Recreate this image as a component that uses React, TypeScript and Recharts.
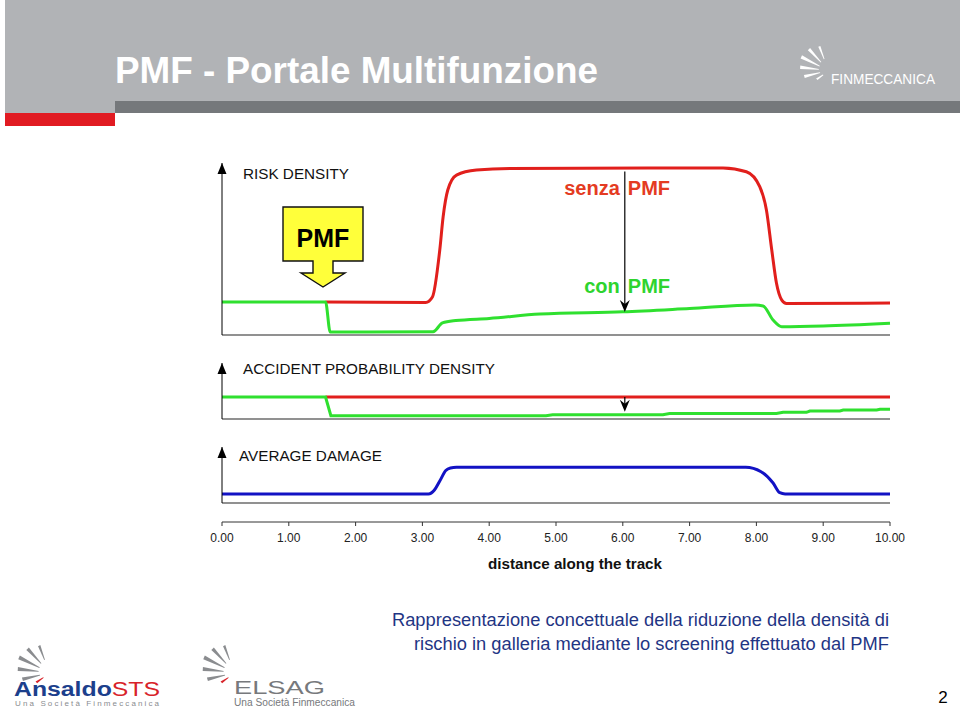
import React from "react";
import { LineChart, Line, XAxis, YAxis, ReferenceLine, ReferenceDot } from "recharts";

const FONT = '"Liberation Sans", Arial, Helvetica, sans-serif';

const RED = "#e11f1c";
const GREEN = "#2fe02f";
const BLUE = "#1212c4";

// distance along the track
const distanceTicks = [0, 1, 2, 3, 4, 5, 6, 7, 8, 9, 10];

// RISK DENSITY - senza PMF (red)
const riskSenzaX = [1.55, 3.05, 3.15, 3.26, 3.31, 3.38, 3.51, 3.81, 4.31, 7.5, 7.85, 8.05, 8.15, 8.23, 8.3, 8.38, 8.45, 10];
const riskSenzaY = [1.92, 1.89, 2.21, 4.94, 6.86, 8.43, 9.3, 9.59, 9.68, 9.71, 9.49, 8.62, 7.27, 4.94, 3.02, 2.03, 1.83, 1.86];

// RISK DENSITY - con PMF (green)
const riskConX = [0, 1.55, 1.62, 3.16, 3.3, 3.5, 4.0, 4.76, 6.0, 7.0, 7.98, 8.1, 8.25, 8.38, 9.0, 10];
const riskConY = [1.92, 1.92, 0.17, 0.19, 0.7, 0.84, 0.96, 1.22, 1.35, 1.54, 1.74, 1.69, 0.87, 0.48, 0.52, 0.68];

// ACCIDENT PROBABILITY DENSITY
const accSenzaX = [1.55, 10];
const accSenzaY = [3.93, 3.93];
const accConX = [0, 1.55, 1.63, 4.85, 4.95, 6.6, 6.7, 8.3, 8.4, 8.75, 8.8, 9.25, 9.3, 9.8, 9.85, 10];
const accConY = [3.93, 3.93, 0.59, 0.59, 0.77, 0.77, 0.98, 0.98, 1.2, 1.2, 1.43, 1.43, 1.61, 1.61, 1.75, 1.75];

// AVERAGE DAMAGE (blue)
const damageX = [0, 3.09, 3.18, 3.26, 3.35, 3.42, 3.51, 7.84, 8.07, 8.25, 8.35, 8.43, 10];
const damageY = [1.61, 1.61, 2.32, 3.93, 5.8, 6.25, 6.38, 6.38, 5.59, 3.57, 1.84, 1.61, 1.61];

// annotation anchors
const pmfAt = { x: 1.512, y: 2.79 };
const arrowX = 6.03;
const riskArrow = [9.5, 1.34];
const accArrow = [3.93, 1.3];

const zip = (xs: number[], ys: number[]) => xs.map((x, i) => ({ x, y: ys[i] }));

const margin = { top: 13, right: 70, bottom: 0, left: 212 };

const axisHead = (label: string, dx: number, dy: number, len: number) => (p: any) => (
  <g>
    <polygon points={`${p.cx - 4.5},${p.cy + 11} ${p.cx + 4.5},${p.cy + 11} ${p.cx},${p.cy}`} fill="#000" />
    <text x={p.cx + dx} y={p.cy + dy} fontFamily={FONT} fontSize={15} fill="#111" textLength={len} lengthAdjust="spacingAndGlyphs">
      {label}
    </text>
  </g>
);

const arrowTip = (p: any) => (
  <polygon points={`${p.cx},${p.cy} ${p.cx - 5},${p.cy - 12} ${p.cx},${p.cy - 8} ${p.cx + 5},${p.cy - 12}`} fill="#000" />
);

const pmfMarker = (p: any) => {
  const { cx, cy } = p;
  const d = `M${cx - 40},${cy - 80} H${cx + 40} V${cy - 26} H${cx + 10} V${cy - 14} H${cx + 22} L${cx},${cy} L${cx - 22},${cy - 14} H${cx - 10} V${cy - 26} H${cx - 40} Z`;
  return (
    <g>
      <path d={d} fill="#ffff3a" stroke="#111" strokeWidth={1.4} />
      <text x={cx} y={cy - 40} textAnchor="middle" fontFamily={FONT} fontWeight="bold" fontSize={25} fill="#000">PMF</text>
    </g>
  );
};

const senzaLabel = (p: any) => (
  <g fontFamily={FONT} fontWeight="bold" fontSize={20} fill="#e43b22">
    <text x={p.cx - 5} y={p.cy + 27} textAnchor="end">senza</text>
    <text x={p.cx + 3} y={p.cy + 27}>PMF</text>
  </g>
);

const conLabel = (p: any) => (
  <g>
    <polygon points={`${p.cx},${p.cy} ${p.cx - 5},${p.cy - 12} ${p.cx},${p.cy - 8} ${p.cx + 5},${p.cy - 12}`} fill="#000" />
    <g fontFamily={FONT} fontWeight="bold" fontSize={20} fill="#2ed42e">
      <text x={p.cx - 5} y={p.cy - 19} textAnchor="end">con</text>
      <text x={p.cx + 3} y={p.cy - 19}>PMF</text>
    </g>
  </g>
);

function Fan({ x, y, s, color, accent }: { x: number; y: number; s: number; color: string; accent?: string }) {
  // little swoosh mark of the group logos
  const rays = [
    { a: 246, r1: 14, r2: 30, w: 2.2 },
    { a: 224, r1: 13, r2: 34, w: 3.2 },
    { a: 203, r1: 12, r2: 36, w: 3.6 },
    { a: 183, r1: 12, r2: 34, w: 3.4 },
    { a: 163, r1: 11, r2: 30, w: 3 },
    { a: 140, r1: 9, r2: 18, w: 2.2 },
  ];
  return (
    <g>
      {rays.map((r, i) => {
        const rad = (r.a * Math.PI) / 180;
        const ux = Math.cos(rad), uy = Math.sin(rad);
        const nx = -uy, ny = ux;
        const x1 = x + ux * r.r1 * s, y1 = y + uy * r.r1 * s;
        const x2 = x + ux * r.r2 * s, y2 = y + uy * r.r2 * s;
        const w = r.w * s;
        const pts = `${x1 + nx * 0.4},${y1 + ny * 0.4} ${x2 + nx * w},${y2 + ny * w} ${x2 - nx * w * 0.2},${y2 - ny * w * 0.2} ${x1 - nx * 0.4},${y1 - ny * 0.4}`;
        return <polygon key={i} points={pts} fill={accent && i === rays.length - 1 ? accent : color} />;
      })}
    </g>
  );
}

export default function App() {
  const riskSenza = zip(riskSenzaX, riskSenzaY);
  const riskCon = zip(riskConX, riskConY);
  const accSenza = zip(accSenzaX, accSenzaY);
  const accCon = zip(accConX, accConY);
  const damage = zip(damageX, damageY);

  const baseAxis = { stroke: "#6d6d6d", strokeWidth: 1.5 };

  return (
    <div style={{ position: "relative", width: 960, height: 708, background: "#fff", overflow: "hidden", fontFamily: FONT }}>
      <style>{"body{margin:0}"}</style>

      {/* slide header */}
      <div style={{ position: "absolute", left: 5, top: 0, width: 955, height: 113, background: "#b1b3b6" }} />
      <div style={{ position: "absolute", left: 115, top: 101, width: 845, height: 12, background: "#75787b" }} />
      <div style={{ position: "absolute", left: 5, top: 113, width: 110, height: 13, background: "#e11b22" }} />
      <svg style={{ position: "absolute", left: 0, top: 0 }} width={960} height={130}>
        <text x={115} y={83} fontFamily={FONT} fontWeight="bold" fontSize={37} fill="#fff" textLength={483} lengthAdjust="spacingAndGlyphs">
          PMF - Portale Multifunzione
        </text>
        <Fan x={829} y={70} s={0.85} color="#fff" />
        <text x={831} y={84} fontFamily={FONT} fontSize={14} fill="#fff" textLength={104} lengthAdjust="spacingAndGlyphs">FINMECCANICA</text>
      </svg>

      {/* RISK DENSITY */}
      <div style={{ position: "absolute", left: 0, top: 150 }}>
        <LineChart width={960} height={195} margin={margin}>
          <XAxis type="number" dataKey="x" domain={[0, 10]} height={10} tick={false} tickLine={false} axisLine={baseAxis} />
          <YAxis type="number" domain={[0, 10]} width={10} tick={false} tickLine={false} axisLine={{ stroke: "#000" }} />
          <Line data={riskSenza} dataKey="y" type="monotone" stroke={RED} strokeWidth={3} dot={false} isAnimationActive={false} />
          <Line data={riskCon} dataKey="y" type="monotone" stroke={GREEN} strokeWidth={3} dot={false} isAnimationActive={false} />
          <ReferenceLine segment={[{ x: arrowX, y: riskArrow[0] }, { x: arrowX, y: riskArrow[1] + 0.3 }]} stroke="#000" strokeWidth={1.2} />
          <ReferenceDot x={arrowX} y={riskSenzaY[9]} ifOverflow="visible" shape={senzaLabel} />
          <ReferenceDot x={arrowX} y={riskArrow[1]} ifOverflow="visible" shape={conLabel} />
          <ReferenceDot x={pmfAt.x} y={pmfAt.y} ifOverflow="visible" shape={pmfMarker} />
          <ReferenceDot x={0} y={10} ifOverflow="visible" shape={axisHead("RISK DENSITY", 21, 16, 106)} />
        </LineChart>
      </div>

      {/* ACCIDENT PROBABILITY DENSITY */}
      <div style={{ position: "absolute", left: 0, top: 350 }}>
        <LineChart width={960} height={79} margin={margin}>
          <XAxis type="number" dataKey="x" domain={[0, 10]} height={10} tick={false} tickLine={false} axisLine={baseAxis} />
          <YAxis type="number" domain={[0, 10]} width={10} tick={false} tickLine={false} axisLine={{ stroke: "#000" }} />
          <Line data={accSenza} dataKey="y" type="linear" stroke={RED} strokeWidth={3} dot={false} isAnimationActive={false} />
          <Line data={accCon} dataKey="y" type="linear" stroke={GREEN} strokeWidth={3} dot={false} isAnimationActive={false} />
          <ReferenceLine segment={[{ x: arrowX, y: accArrow[0] }, { x: arrowX, y: accArrow[1] + 1 }]} stroke="#000" strokeWidth={1.2} />
          <ReferenceDot x={arrowX} y={accArrow[1]} ifOverflow="visible" shape={arrowTip} />
          <ReferenceDot x={0} y={10} ifOverflow="visible" shape={axisHead("ACCIDENT PROBABILITY DENSITY", 21, 11, 252)} />
        </LineChart>
      </div>

      {/* AVERAGE DAMAGE + distance axis */}
      <div style={{ position: "absolute", left: 0, top: 434 }}>
        <LineChart width={960} height={148} margin={margin}>
          <XAxis type="number" dataKey="x" domain={[0, 10]} height={19} tick={false} tickLine={false} axisLine={baseAxis} />
          <XAxis
            xAxisId="dist"
            type="number"
            dataKey="x"
            domain={[0, 10]}
            ticks={distanceTicks}
            interval={0}
            height={60}
            tickFormatter={(v: number) => v.toFixed(2)}
            tickSize={4}
            tickMargin={7}
            tick={{ fontSize: 12, fill: "#222", fontFamily: FONT }}
            axisLine={{ stroke: "#333" }}
            tickLine={{ stroke: "#333" }}
            label={{
              content: (p: any) => {
                const vb = p.viewBox || { x: 222, y: 522, width: 668 };
                return (
                  <text x={vb.x + vb.width / 2 + 19} y={vb.y + 47} textAnchor="middle" fontFamily={FONT} fontWeight="bold" fontSize={14} fill="#111" textLength={174} lengthAdjust="spacingAndGlyphs">
                    distance along the track
                  </text>
                );
              },
            }}
          />
          <YAxis type="number" domain={[0, 10]} width={10} tick={false} tickLine={false} axisLine={{ stroke: "#000" }} />
          <Line xAxisId="dist" data={damage} dataKey="y" type="monotone" stroke={BLUE} strokeWidth={3} dot={false} isAnimationActive={false} />
          <ReferenceDot xAxisId="dist" x={0} y={10} ifOverflow="visible" shape={axisHead("AVERAGE DAMAGE", 17, 14, 143)} />
        </LineChart>
      </div>

      {/* caption, logos, page number */}
      <svg style={{ position: "absolute", left: 0, top: 590 }} width={960} height={118}>
        <g fontFamily={FONT} fontSize={17.5} fill="#1f3584" textAnchor="end">
          <text x={889} y={36} textLength={497} lengthAdjust="spacingAndGlyphs">Rappresentazione concettuale della riduzione della densità di</text>
          <text x={889} y={60} textLength={475} lengthAdjust="spacingAndGlyphs">rischio in galleria mediante lo screening effettuato dal PMF</text>
        </g>

        <Fan x={50} y={82} s={0.95} color="#8a8c8f" accent="#d8232a" />
        <text x={14} y={106} fontFamily={FONT} fontWeight="bold" fontSize={20} fill="#1c3f8c" textLength={146} lengthAdjust="spacingAndGlyphs">
          Ansaldo<tspan fill="#d8232a" fontWeight="normal">STS</tspan>
        </text>
        <text x={15} y={116} fontFamily={FONT} fontSize={8} fill="#8a8c8f" textLength={144} lengthAdjust="spacing">Una Società Finmeccanica</text>

        <Fan x={235} y={82} s={0.95} color="#8a8c8f" accent="#d8232a" />
        <text x={234} y={104} fontFamily={FONT} fontSize={19} fill="#77797c" textLength={91} lengthAdjust="spacingAndGlyphs">ELSAG</text>
        <text x={234} y={116} fontFamily={FONT} fontSize={10} fill="#77797c" textLength={121} lengthAdjust="spacingAndGlyphs">Una Società Finmeccanica</text>

        <text x={943} y={113} fontFamily={FONT} fontSize={17} fill="#000" textAnchor="middle">2</text>
      </svg>
    </div>
  );
}
